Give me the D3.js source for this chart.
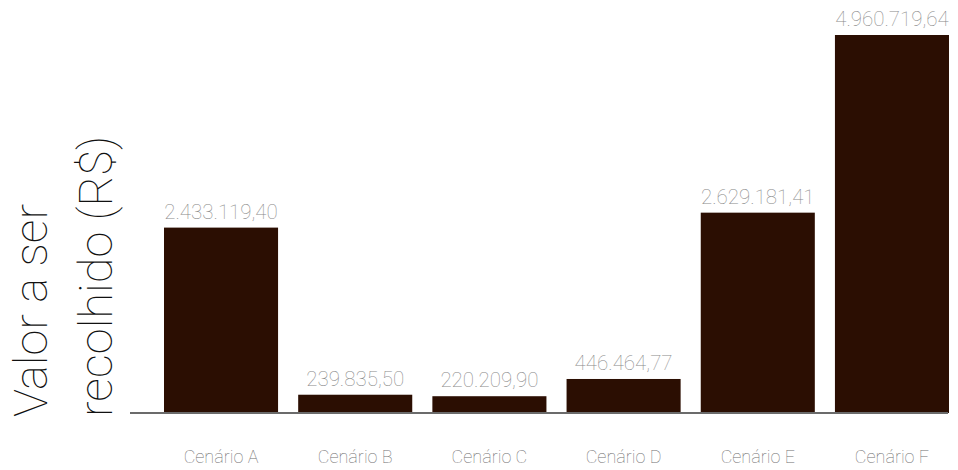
<!DOCTYPE html>
<html>
<head>
<meta charset="utf-8">
<script src="https://cdnjs.cloudflare.com/ajax/libs/d3/7.8.5/d3.min.js"></script>
<style>
  body { margin: 0; background: #fff; }
  svg { display: block; font-family: Roboto, "Open Sans", sans-serif; }
</style>
</head>
<body>
<div id="chart"></div>
<script>
// data
var cenarios = ["Cenário A", "Cenário B", "Cenário C", "Cenário D", "Cenário E", "Cenário F"];
var valores = [2433119.40, 239835.50, 220209.90, 446464.77, 2629181.41, 4960719.64];
var tituloY = ["Valor a ser", "recolhido (R$)"];

var w = 958, h = 470;
var svg = d3.select("#chart").append("svg").attr("width", w).attr("height", h);

var x = d3.scaleBand().domain(cenarios).range([164, 949]).paddingInner(0.15).paddingOuter(0);
var y = d3.scaleLinear().domain([0, d3.max(valores)]).range([413, 35]);

var fmt = function(v) {
    // pt-BR style: 4.960.719,64
    return d3.format(",.2f")(v).replace(/,/g, "#").replace(".", ",").replace(/#/g, ".");
};

var data = cenarios.map(function(c, i) { return {name: c, value: valores[i]}; });

/* bars */
svg.selectAll("rect.bar")
    .data(data)
    .enter()
    .append("rect")
    .attr("class", "bar")
    .attr("x", function(d) { return x(d.name); })
    .attr("width", x.bandwidth())
    .attr("y", function(d) { return y(d.value); })
    .attr("height", function(d) { return y(0) - y(d.value); })
    .style("fill", "#2b0e02");

/* baseline */
svg.append("line")
    .attr("x1", 130).attr("x2", 948)
    .attr("y1", y(0)).attr("y2", y(0))
    .style("stroke", "#6b6b6b")
    .style("stroke-width", 2);

/* value labels */
svg.selectAll("text.val")
    .data(data)
    .enter()
    .append("text")
    .attr("class", "val")
    .attr("x", function(d) { return x(d.name) + x.bandwidth() / 2; })
    .attr("y", function(d) { return y(d.value) - 9; })
    .attr("text-anchor", "middle")
    .attr("font-size", "20.5px")
    .attr("font-weight", 100)
    .attr("fill", "#8a8a8a")
    .text(function(d) { return fmt(d.value); });

/* category labels */
var xAxis = svg.append("g")
    .attr("transform", "translate(0," + y(0) + ")")
    .call(d3.axisBottom(x).tickSize(0).tickPadding(50));
xAxis.select(".domain").remove();
xAxis.selectAll("text")
    .attr("font-family", "Roboto, sans-serif")
    .attr("font-size", "18px")
    .attr("font-weight", 100)
    .attr("fill", "#6f6f6f")
    .attr("dy", "0");

/* y title */
var title = svg.append("text")
    .attr("transform", "translate(47,417) rotate(-90)")
    .attr("font-size", "47px")
    .attr("font-weight", 100)
    .attr("fill", "#111");
title.selectAll("tspan")
    .data(tituloY)
    .enter()
    .append("tspan")
    .attr("x", 0)
    .attr("dy", function(d, i) { return i === 0 ? 0 : 65; })
    .text(function(d) { return d; });
</script>
</body>
</html>
